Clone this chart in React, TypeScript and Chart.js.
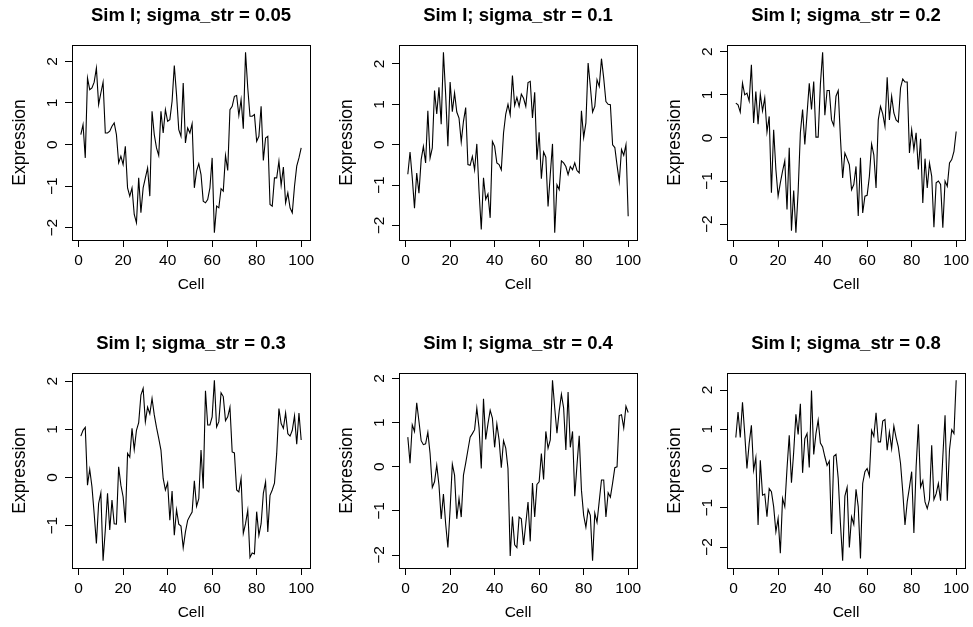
import React, { useEffect, useRef } from "react";
import { Chart, registerables } from "chart.js";

Chart.register(...registerables);

// ---------- data ----------
const cells: number[] = Array.from({ length: 100 }, (_, i) => i + 1);
const xTickValues = [0, 20, 40, 60, 80, 100];
const yTicksFull = [-2, -1, 0, 1, 2];
const yTicksUpper = [-1, 0, 1, 2];

const titles = [
  "Sim I; sigma_str = 0.05",
  "Sim I; sigma_str = 0.1",
  "Sim I; sigma_str = 0.2",
  "Sim I; sigma_str = 0.3",
  "Sim I; sigma_str = 0.4",
  "Sim I; sigma_str = 0.8",
];

const sigma005 = [
  0.24, 0.48, -0.32, 1.6, 1.32, 1.36, 1.5, 1.84, 0.96, 1.24,
  1.5, 0.28, 0.28, 0.32, 0.44, 0.52, 0.24, -0.44, -0.28, -0.48,
  -0.04, -1.04, -1.24, -1.04, -1.68, -1.88, -0.8, -1.64, -1.04, -0.8,
  -0.56, -1.24, 0.8, 0.24, -0.08, -0.26, 0.8, 0.28, 0.84, 0.56,
  0.6, 1.04, 1.9, 1.2, 0.36, 0.2, 1.48, 0.04, 0.4, 0.28,
  0.5, -1.04, -0.64, -0.46, -0.72, -1.36, -1.4, -1.32, -1.04, -0.32,
  -2.12, -1.48, -1.52, -1.06, -1.12, -0.26, -0.62, 0.84, 0.92, 1.16,
  1.18, 0.7, 1.08, 0.38, 2.22, 1.36, 0.68, 0.68, 0.72, 0.08,
  0.2, 0.92, -0.38, 0.16, 0.2, -1.44, -1.48, -0.8, -0.8, -0.4,
  -0.98, -0.54, -1.4, -1.16, -1.52, -1.64, -1.0, -0.52, -0.32, -0.08,
];

const sigma01 = [
  -0.73, -0.18, -0.82, -1.57, -0.7, -1.2, -0.37, -0.04, -0.45, 0.84,
  -0.33, -0.08, 1.34, 0.76, 1.42, 0.51, 2.29, 1.24, -0.04, 1.55,
  0.82, 1.28, 0.81, 0.66, 0.07, 0.58, 0.92, -0.49, -0.51, -0.29,
  -0.62, 0.02, -1.15, -2.1, -0.82, -1.35, -1.22, -1.81, 0.08, -0.04,
  -0.45, -0.49, -0.62, 0.29, 0.76, 1.0, 0.74, 1.71, 0.97, 1.17,
  0.95, 1.25, 1.15, 0.95, 1.54, 1.57, 0.66, 1.3, -0.37, 0.31,
  -0.84, -0.18, -0.31, -1.53, -0.74, 0.02, -2.18, -0.99, -1.11, -0.4,
  -0.45, -0.54, -0.74, -0.54, -0.62, -0.45, -0.64, -0.7, 0.84, 0.18,
  0.54, 2.02, 1.44, 0.81, 0.95, 1.61, 1.44, 2.13, 1.65, 1.07,
  1.0, 0.99, 0.0, -0.07, -0.51, -0.91, -0.12, -0.26, 0.0, -1.77,
];

const sigma02 = [
  0.81, 0.77, 0.6, 1.27, 1.0, 1.04, 0.86, 1.7, 0.35, 1.08,
  0.32, 1.02, 0.63, 0.93, 0.14, 0.5, -1.27, 0.19, -0.73, -1.35,
  -1.04, -0.77, -0.53, -1.66, -0.23, -2.15, -1.22, -2.2, -1.24, 0.12,
  0.66, -0.15, 0.56, 1.27, 0.66, 1.31, 0.02, 0.02, 1.25, 1.99,
  0.53, 1.1, 1.1, 0.42, 0.29, 0.97, 1.1, 0.0, -0.93, -0.35,
  -0.48, -0.62, -1.2, -1.08, -0.66, -1.81, -0.46, -1.74, -1.35, -1.33,
  -0.89, -0.14, -0.39, -1.16, 0.42, 0.73, 0.56, 0.27, 1.41, 0.42,
  0.97, 0.58, 0.42, 0.37, 1.16, 1.37, 1.3, 1.3, -0.35, 0.19,
  -0.27, 0.12, -0.73, -0.02, -1.51, -0.48, -1.16, -0.58, -0.89, -2.07,
  -1.04, -1.0, -1.08, -2.08, -1.0, -1.12, -0.58, -0.5, -0.31, 0.15,
];

const sigma03 = [
  0.86, 0.98, 1.04, -0.16, 0.17, -0.19, -0.75, -1.37, -0.54, -0.32,
  -1.73, -1.09, -0.33, -1.09, -0.47, -0.96, -0.97, 0.22, -0.16, -0.4,
  -0.94, 0.5, 0.42, 1.02, 0.58, 0.98, 1.14, 1.71, 1.85, 1.16,
  1.46, 1.32, 1.64, 1.3, 1.04, 0.81, 0.57, -0.02, -0.26, -0.11,
  -0.89, -0.28, -1.2, -0.67, -0.97, -1.01, -1.46, -1.13, -0.89, -0.8,
  -0.72, -0.07, -0.6, -0.44, 0.57, -0.23, 1.8, 1.09, 1.09, 1.26,
  2.02, 1.05, 1.16, 1.76, 1.68, 1.18, 1.26, 1.46, 0.53, 0.51,
  -0.26, -0.3, -0.02, -1.16, -0.96, -0.68, -1.66, -1.57, -1.59, -0.71,
  -1.2, -0.96, -0.33, -0.09, -1.13, -0.37, -0.26, -0.12, 0.5, 1.43,
  1.12, 1.02, 1.34, 0.91, 0.86, 0.98, 1.28, 0.69, 1.34, 0.78,
];

const sigma04 = [
  0.67, 0.08, 0.95, 0.8, 1.45, 1.03, 0.59, 0.5, 0.52, 0.78,
  0.3, -0.47, -0.34, 0.04, -0.42, -1.18, -0.62, -1.29, -1.83, -0.97,
  0.06, -0.19, -1.18, -0.72, -1.14, -0.19, 0.08, 0.38, 0.67, 0.75,
  0.84, 1.33, 0.88, -0.04, 1.54, 0.62, 0.97, 1.28, 1.1, 0.44,
  0.97, 0.61, -0.02, 0.59, 0.42, -0.04, -2.02, -1.13, -1.77, -1.83,
  -1.14, -1.18, -1.77, -1.29, -0.8, -1.69, -0.37, -1.14, -0.4, -0.34,
  0.3, -0.29, 0.8, 0.42, 0.61, 1.96, 1.33, 0.76, 1.26, 1.64,
  1.33, 0.38, 1.69, 0.44, 0.8, -0.67, 0.04, 0.7, -0.53, -1.1,
  -1.37, -0.97, -1.1, -2.13, -1.05, -1.26, -0.78, -0.3, -0.3, -1.14,
  -0.59, -0.69, -0.37, -0.02, 0.0, 1.16, 1.18, 0.88, 1.37, 1.23,
];

const sigma08 = [
  0.79, 1.44, 0.79, 1.69, 0.89, 0.0, 0.64, 1.1, -0.04, 0.28,
  -1.44, 0.21, -0.68, -0.65, -1.23, -0.51, -0.59, -0.97, -1.61, -1.27,
  -2.16, -0.76, -0.97, 0.0, 0.85, -0.36, 0.42, 1.38, 0.87, 1.65,
  -0.11, 0.76, 0.89, 0.03, 1.99, 0.36, 0.89, 1.23, 0.65, 0.55,
  0.3, 0.08, 0.19, -1.67, 0.31, 0.36, -0.25, -1.4, -2.35, -0.7,
  -0.48, -2.01, -1.23, -1.42, -0.53, -0.97, -2.29, -0.38, -0.08, 0.0,
  -0.19, 0.97, 0.82, 1.42, 0.68, 0.68, 1.21, 1.25, 0.47, 0.93,
  0.51, 1.08, 0.79, 0.55, 0.13, -0.59, -1.44, -0.85, -0.48, -0.08,
  -1.64, 0.04, 1.13, -0.47, -0.31, -0.85, -1.02, -0.79, 0.59, -0.79,
  -0.64, -0.38, -0.82, 0.3, 1.36, -0.82, 0.48, 0.99, 0.89, 2.25,
];

const seriesList = [sigma005, sigma01, sigma02, sigma03, sigma04, sigma08];
const yTickList = [yTicksFull, yTicksFull, yTicksFull, yTicksUpper, yTicksFull, yTicksFull];

// ---------- layout / style ----------
const FONT = '"Liberation Sans", Arial, Helvetica, sans-serif';
const BASE = 15.5;
const YLAB = 17.5;
const TITLE = 18.5;
const BOX_LEFTS = [72, 399, 727];
const BOX_TOPS = [45, 373];
const BOX_W = 238;
const BOX_H = 195;
const PAD_L = 72;
const PAD_T = 45;
const PAD_R = 8;
const PAD_B = 54;
const CW = PAD_L + BOX_W + PAD_R;
const CH = PAD_T + BOX_H + PAD_B;

const fmt = (v: number) => (v < 0 ? "\u2212" + Math.abs(v) : String(v));

function Panel(props: { title: string; values: number[]; yTicks: number[]; left: number; top: number }) {
  const { title, values, yTicks, left, top } = props;
  const ref = useRef<HTMLCanvasElement | null>(null);

  useEffect(() => {
    if (!ref.current) return;
    const lo = Math.min(...values);
    const hi = Math.max(...values);
    const py = 0.04 * (hi - lo);
    const xlo = cells[0];
    const xhi = cells[cells.length - 1];
    const px = 0.04 * (xhi - xlo);

    const decor = {
      id: "rdecor",
      afterDraw(chart: any) {
        const { ctx, chartArea: a, scales } = chart;
        ctx.save();
        ctx.strokeStyle = "#000";
        ctx.lineWidth = 1;
        ctx.strokeRect(a.left + 0.5, a.top + 0.5, a.right - a.left, a.bottom - a.top);
        ctx.fillStyle = "#000";
        const cx = (a.left + a.right) / 2;
        const cy = (a.top + a.bottom) / 2;
        ctx.textAlign = "center";
        ctx.textBaseline = "alphabetic";
        ctx.font = `bold ${TITLE}px ${FONT}`;
        ctx.fillText(title, cx, a.top - 30 + 0.33 * TITLE);
        ctx.font = `${BASE}px ${FONT}`;
        for (const t of scales.x.ticks) {
          ctx.fillText(fmt(t.value), scales.x.getPixelForValue(t.value), a.bottom + 19 + 0.358 * BASE);
        }
        ctx.fillText("Cell", cx, a.bottom + 43 + 0.36 * BASE);
        for (const t of scales.y.ticks) {
          const y = scales.y.getPixelForValue(t.value);
          ctx.save();
          ctx.translate(a.left - 21, y);
          ctx.rotate(-Math.PI / 2);
          ctx.fillText(fmt(t.value), 0, 0.358 * BASE);
          ctx.restore();
        }
        ctx.save();
        ctx.font = `${YLAB}px ${FONT}`;
        ctx.translate(a.left - 51, cy);
        ctx.rotate(-Math.PI / 2);
        ctx.fillText("Expression", 0, 0.25 * YLAB);
        ctx.restore();
        ctx.restore();
      },
    };

    const axisGrid = {
      display: true,
      drawOnChartArea: false,
      drawTicks: true,
      tickLength: 7,
      color: "#000",
      lineWidth: 1,
    };

    const chart = new Chart(ref.current, {
      type: "line",
      data: {
        datasets: [
          {
            data: cells.map((c, i) => ({ x: c, y: values[i] })),
            borderColor: "#000",
            borderWidth: 1.1,
            pointRadius: 0,
            tension: 0,
            fill: false,
          },
        ],
      },
      options: {
        animation: false,
        responsive: false,
        devicePixelRatio: 1,
        events: [],
        layout: { padding: { left: 0, top: PAD_T, right: PAD_R, bottom: 0 } },
        plugins: {
          legend: { display: false },
          tooltip: { enabled: false },
          title: { display: false },
        },
        scales: {
          x: {
            type: "linear",
            min: xlo - px,
            max: xhi + px,
            afterBuildTicks: (s: any) => {
              s.ticks = xTickValues.map((v) => ({ value: v }));
            },
            afterFit: (s: any) => {
              s.height = PAD_B;
            },
            grid: axisGrid,
            border: { display: false },
            ticks: { display: false },
          },
          y: {
            type: "linear",
            min: lo - py,
            max: hi + py,
            afterBuildTicks: (s: any) => {
              s.ticks = yTicks.map((v) => ({ value: v }));
            },
            afterFit: (s: any) => {
              s.width = PAD_L;
            },
            grid: axisGrid,
            border: { display: false },
            ticks: { display: false },
          },
        },
      } as any,
      plugins: [decor],
    });
    return () => chart.destroy();
  }, [title, values, yTicks]);

  return (
    <canvas
      ref={ref}
      width={CW}
      height={CH}
      style={{ position: "absolute", left, top, width: CW, height: CH }}
    />
  );
}

export default function App() {
  return (
    <div
      style={{
        position: "absolute",
        left: 0,
        top: 0,
        width: 973,
        height: 627,
        background: "#fff",
        overflow: "hidden",
      }}
    >
      {seriesList.map((vals, i) => (
        <Panel
          key={titles[i]}
          title={titles[i]}
          values={vals}
          yTicks={yTickList[i]}
          left={BOX_LEFTS[i % 3] - PAD_L}
          top={BOX_TOPS[Math.floor(i / 3)] - PAD_T}
        />
      ))}
    </div>
  );
}
